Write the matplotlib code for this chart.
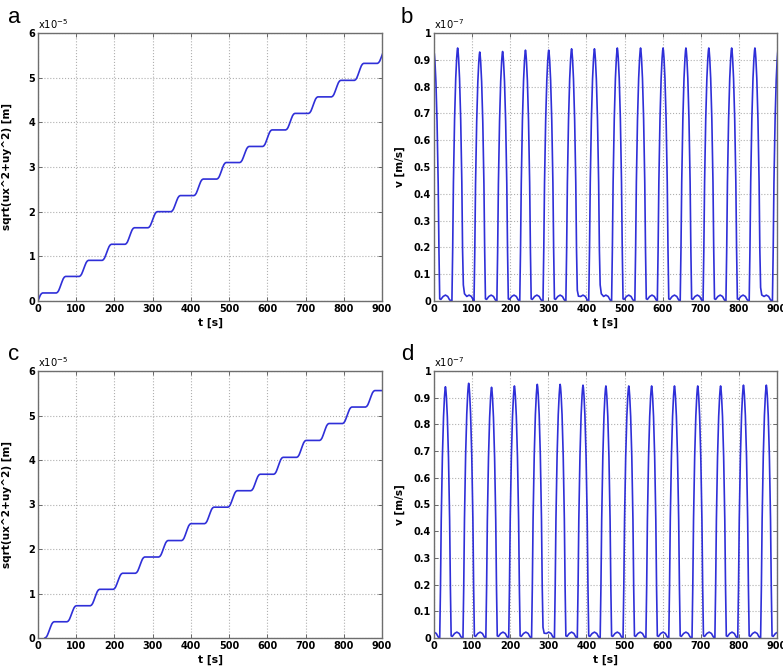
import numpy as np
from matplotlib import pyplot as plt
from matplotlib.ticker import FixedLocator, FixedFormatter

# ---- data (x10^-5 m for a/c, x10^-7 m/s for b/d) ----
t_ticks = [0, 100, 200, 300, 400, 500, 600, 700, 800, 900]
t_end = 900

# staircase panels: start time of each rise and the level before/after it
a_rise_t = [-12, 48, 108, 168, 228, 288, 348, 408, 468, 528, 588, 648, 708, 768, 828, 888]
a_levels = [-0.18, 0.18, 0.55, 0.91, 1.27, 1.64, 2.0, 2.36, 2.73, 3.1, 3.46, 3.83,
            4.2, 4.57, 4.94, 5.32, 5.68]

c_rise_t = [18, 76, 137, 197, 255, 316, 376, 436, 497, 557, 617, 677, 737, 797, 857]
c_levels = [0.0, 0.365, 0.725, 1.094, 1.455, 1.82, 2.19, 2.57, 2.94, 3.31, 3.68,
            4.06, 4.44, 4.82, 5.19, 5.56]

# shape of one rise (seconds after start, fraction of the step)
rise_dt = [0, 3, 6, 9, 12, 15, 18, 21, 24]
rise_frac = [0, 0.04, 0.14, 0.31, 0.5, 0.69, 0.86, 0.96, 1.0]

# pulse panels: peak times, peak heights, value at the foot of the falling edge
b_peak_t = [0, 62, 120, 180, 240, 301, 361, 421, 481, 542, 601, 661, 721, 781, 842, 903]
b_peak_v = [0.93, 0.944, 0.929, 0.931, 0.936, 0.936, 0.941, 0.941, 0.944, 0.944,
            0.944, 0.944, 0.944, 0.944, 0.944, 0.94]
b_foot = [0.008, 0.06, 0.008, 0.008, 0.008, 0.008, 0.04, 0.06, 0.008, 0.008,
          0.008, 0.008, 0.008, 0.008, 0.05, 0.008]

d_peak_t = [-30, 30, 91, 151, 211, 271, 331, 391, 451, 511, 571, 631, 692, 752, 812, 872]
d_peak_v = [0.94, 0.941, 0.954, 0.939, 0.944, 0.95, 0.95, 0.947, 0.944, 0.944,
            0.944, 0.944, 0.944, 0.944, 0.947, 0.947]
d_foot = [0.008, 0.008, 0.008, 0.008, 0.008, 0.04, 0.008, 0.008, 0.008, 0.008,
          0.008, 0.008, 0.008, 0.008, 0.008, 0.008]

# shape of one pulse around its peak, and of the small bump between pulses
pulse_dt = [-15, -13, -11, -8, -5, -2.5, -1, 0, 1, 2.5, 5, 8, 11, 13]
pulse_frac = [0, 0.2, 0.47, 0.72, 0.88, 0.96, 0.99, 1, 0.99, 0.96, 0.88, 0.72, 0.47, 0.2]
low_dt = [18, 24, 30, 36, 41]
low_v = [0.006, 0.017, 0.022, 0.017, 0.004]


def staircase(rise_t, levels):
    t, y = [], []
    for i, ts in enumerate(rise_t):
        lo, hi = levels[i], levels[i + 1]
        for dt, f in zip(rise_dt, rise_frac):
            t.append(ts + dt)
            y.append(lo + (hi - lo) * f)
    if t[-1] < t_end:
        # flat to the end of the run
        t.append(t_end)
        y.append(levels[-1])
    return np.array(t), np.array(y)


def pulses(peak_t, peak_v, foot):
    t, y = [], []
    for tp, vp, ft in zip(peak_t, peak_v, foot):
        for dt, f in zip(pulse_dt, pulse_frac):
            t.append(tp + dt)
            y.append(vp * f)
        t.append(tp + 15)
        y.append(ft)
        for k, (dt, v) in enumerate(zip(low_dt, low_v)):
            t.append(tp + dt)
            y.append(max(v, ft * 0.45) if k == 0 else v)
    return np.array(t), np.array(y)


line_col = '#2f2fd8'

fig = plt.figure(figsize=(7.83, 6.70), dpi=100)
W, H = 783, 670


def make_axes(x0, y0, x1, y1):
    return fig.add_axes([x0 / W, 1 - y1 / H, (x1 - x0) / W, (y1 - y0) / H])


def style(ax, ymax, yticks, ylabels, ylabel, expo, lbl_x):
    ax.set_xlim(0, t_end)
    ax.set_ylim(0, ymax)
    ax.xaxis.set_major_locator(FixedLocator(t_ticks))
    ax.xaxis.set_major_formatter(FixedFormatter([str(v) for v in t_ticks]))
    ax.yaxis.set_major_locator(FixedLocator(yticks))
    ax.yaxis.set_major_formatter(FixedFormatter(ylabels))
    ax.grid(True, color='#b0b0b0', linestyle=':', linewidth=0.8)
    ax.tick_params(direction='in', length=3, width=0.6, color='#555555', pad=2,
                   top=True, right=True)
    for lab in ax.get_xticklabels() + ax.get_yticklabels():
        lab.set_fontsize(7.0)
        lab.set_fontweight('bold')
    for sp in ax.spines.values():
        sp.set_color('#6e6e6e')
        sp.set_linewidth(1.0)
    ax.set_xlabel('t [s]', fontsize=7.8, fontweight='bold', labelpad=3)
    ax.set_ylabel(ylabel, fontsize=7.6, fontweight='bold')
    ax.yaxis.set_label_coords(lbl_x, 0.5)
    ax.text(0.0, 1.006, 'x10$^{' + expo + '}$', transform=ax.transAxes,
            fontsize=7.2, ha='left', va='bottom')


ax_a = make_axes(38, 33, 382, 301)
ax_b = make_axes(434, 33, 777, 301)
ax_c = make_axes(38, 371, 382, 638)
ax_d = make_axes(434, 371, 777, 638)

stair_ticks = [0, 1, 2, 3, 4, 5, 6]
stair_labels = [str(v) for v in stair_ticks]
v_ticks = [0, 0.1, 0.2, 0.3, 0.4, 0.5, 0.6, 0.7, 0.8, 0.9, 1.0]
v_labels = ['0', '0.1', '0.2', '0.3', '0.4', '0.5', '0.6', '0.7', '0.8', '0.9', '1']

t, y = staircase(a_rise_t, a_levels)
ax_a.plot(t, y, color=line_col, lw=1.2)
style(ax_a, 6, stair_ticks, stair_labels, 'sqrt(ux^2+uy^2) [m]', '-5', -0.075)

t, y = pulses(b_peak_t, b_peak_v, b_foot)
ax_b.plot(t, y, color=line_col, lw=1.2)
style(ax_b, 1, v_ticks, v_labels, 'v [m/s]', '-7', -0.085)

t, y = staircase(c_rise_t, c_levels)
ax_c.plot(t, y, color=line_col, lw=1.2)
style(ax_c, 6, stair_ticks, stair_labels, 'sqrt(ux^2+uy^2) [m]', '-5', -0.075)

t, y = pulses(d_peak_t, d_peak_v, d_foot)
ax_d.plot(t, y, color=line_col, lw=1.2)
style(ax_d, 1, v_ticks, v_labels, 'v [m/s]', '-7', -0.085)

# panel letters
for letter, x, y in [('a', 8, 23), ('b', 401, 23), ('c', 8, 360), ('d', 401, 360)]:
    fig.text(x / W, 1 - y / H, letter, fontsize=16, family='Liberation Sans',
             ha='left', va='baseline')

fig.savefig('out.png', dpi=100)
